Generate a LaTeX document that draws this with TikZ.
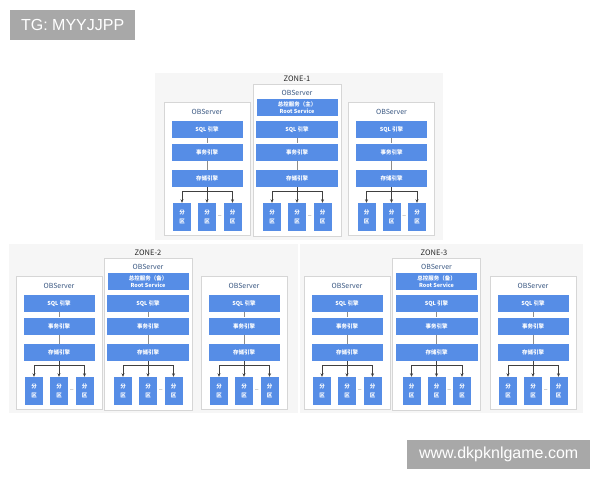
\documentclass[tikz,border=0pt]{standalone}
\usepackage{fontspec}
\setmainfont{Liberation Sans}
\newfontfamily\cjk{Noto Sans CJK SC}
\usetikzlibrary{arrows.meta}

\definecolor{obblue}{RGB}{86,141,230}
\definecolor{obtitle}{RGB}{58,88,130}
\definecolor{zonegray}{RGB}{246,246,246}
\definecolor{srvline}{RGB}{214,214,214}
\definecolor{taggray}{RGB}{168,168,168}

\tikzset{
  zonebg/.style={fill=zonegray},
  zonelabel/.style={font=\cjk\fontsize{7.5}{8}\selectfont, text=black!85},
  srvbox/.style={draw=srvline, fill=white, line width=0.8pt, inner sep=0pt},
  srvtitle/.style={font=\cjk\fontsize{7}{8}\selectfont, text=obtitle},
  engbox/.style={fill=obblue, text=white, minimum height=17, inner sep=0pt,
    font=\cjk\fontsize{5.5}{6.5}\selectfont\bfseries},
  partbox/.style={fill=obblue, text=white, minimum width=18, minimum height=28,
    inner sep=0pt, align=center, font=\cjk\fontsize{5.5}{9}\selectfont\bfseries},
  partdots/.style={text=black!45, font=\fontsize{6}{6}\selectfont, inner sep=0pt},
  link/.style={draw=black!45, line width=0.6pt},
  feed/.style={draw=black!75, line width=0.8pt, -{Stealth[length=3.5pt,width=3pt]}},
  tagbox/.style={fill=taggray, text=white, inner sep=0pt, font=\fontsize{16}{18}\selectfont},
}

% engines and partitions of one server: name, centre x, top y, box width
\newcommand{\engines}[4]{%
  \node[engbox, minimum width=#4] (#1-sql) at (#2,#3+27.5) {SQL 引擎};
  \node[engbox, minimum width=#4] (#1-tx) at (#2,#3+50) {事务引擎};
  \node[engbox, minimum width=#4] (#1-st) at (#2,#3+76.5) {存储引擎};
  \node[partbox] (#1-p1) at (#2-25,#3+115) {分\\区};
  \node[partbox] (#1-p2) at (#2,#3+115) {分\\区};
  \node[partbox] (#1-p3) at (#2+25.5,#3+115) {分\\区};
  \node[partdots] (#1-dd) at (#2+12.8,#3+115) {--};
  \coordinate (#1-bus) at (#2,#3+89);
  \draw[link] (#1-sql) -- (#1-tx);
  \draw[link] (#1-tx) -- (#1-st);
  \draw[feed] (#1-st) -- (#1-p2);
  \draw[feed] (#1-bus) -| (#1-p1);
  \draw[feed] (#1-bus) -| (#1-p3);
}

% plain server: name, centre x, top y
\newcommand{\observer}[3]{%
  \node[srvbox, minimum width=86, minimum height=133, anchor=north] (#1) at (#2,#3) {};
  \node[srvtitle] (#1-t) at (#2,#3+9.5) {OBServer};
  \engines{#1}{#2}{#3}{71}
}

% server holding the root service: name, centre x, top y, 主/备
\newcommand{\rootserver}[4]{%
  \node[srvbox, minimum width=88, minimum height=152, anchor=north] (#1) at (#2,#3-18) {};
  \node[srvtitle] (#1-t) at (#2,#3-9.5) {OBServer};
  \node[engbox, minimum width=81, align=center,
    font=\cjk\fontsize{5.5}{6.5}\selectfont\bfseries] (#1-rs) at (#2,#3+5.5) {总控服务（#4）\\Root Service};
  \engines{#1}{#2}{#3}{82}
}

\begin{document}
\begin{tikzpicture}[x=1pt, y=-1pt]
  \useasboundingbox[fill=white] (0,0) rectangle (600,480);

  % zones
  \path[zonebg] (155,73) rectangle (443,240);
  \path[zonebg] (9,244) rectangle (298,413);
  \path[zonebg] (300,244) rectangle (583,413);
  \node[zonelabel] (z1) at (297,79) {ZONE-1};
  \node[zonelabel] (z2) at (148,252.5) {ZONE-2};
  \node[zonelabel] (z3) at (434,252.5) {ZONE-3};

  % zone 1
  \observer{a1}{207}{102}
  \rootserver{a2}{297}{102}{主}
  \observer{a3}{391.5}{102}

  % zone 2
  \observer{b1}{59}{276}
  \rootserver{b2}{148}{276}{备}
  \observer{b3}{244}{276}

  % zone 3
  \observer{c1}{347}{276}
  \rootserver{c2}{436.5}{276}{备}
  \observer{c3}{533}{276}

  % watermarks
  \node[tagbox, minimum width=125, minimum height=30, anchor=north west] (tg) at (10,10) {TG: MYYJJPP};
  \node[tagbox, minimum width=183, minimum height=29, anchor=north west] (web) at (407,440) {www.dkpknlgame.com};
\end{tikzpicture}
\end{document}
